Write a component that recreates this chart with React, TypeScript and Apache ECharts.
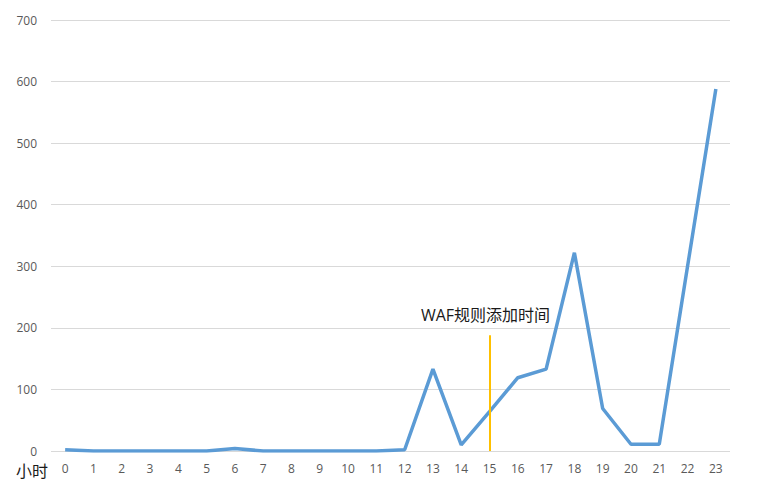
import React, { useEffect, useRef } from "react";
import * as echarts from "echarts";

const hours = [
  "0", "1", "2", "3", "4", "5", "6", "7", "8", "9", "10", "11",
  "12", "13", "14", "15", "16", "17", "18", "19", "20", "21", "22", "23",
];
const requests = [2, 0, 0, 0, 0, 0, 4, 0, 0, 0, 0, 0, 2, 133, 10, 64, 119, 133, 322, 69, 11, 11, 300, 588];
const wafHour = "15";
const wafMarkTop = 188;
const wafLabel = "WAF规则添加时间";

const App: React.FC = () => {
  const chartRef = useRef<HTMLDivElement>(null);

  useEffect(() => {
    if (!chartRef.current) return;
    const chart = echarts.init(chartRef.current, undefined, { renderer: "svg" });

    chart.setOption({
      animation: false,
      textStyle: { fontFamily: "'Open Sans', 'Noto Sans CJK SC', sans-serif" },
      grid: { left: 51, right: 32, top: 20, bottom: 38 },
      xAxis: {
        type: "category",
        data: hours,
        axisLine: { show: false },
        axisTick: { show: false },
        axisLabel: { color: "#595959", fontSize: 12, margin: 11 },
      },
      yAxis: {
        type: "value",
        min: 0,
        max: 700,
        interval: 100,
        axisLine: { show: false },
        axisTick: { show: false },
        axisLabel: { color: "#595959", fontSize: 12, margin: 14 },
        splitLine: { lineStyle: { color: "#d9d9d9", width: 1 } },
      },
      series: [
        {
          type: "line",
          data: requests,
          symbol: "none",
          lineStyle: { color: "#5B9BD5", width: 3.5 },
          markLine: {
            symbol: "none",
            silent: true,
            lineStyle: { color: "#FFC000", width: 2, type: "solid" },
            label: {
              show: true,
              position: "end",
              formatter: wafLabel,
              color: "#1a1a1a",
              fontSize: 16,
              distance: 12,
              offset: [-4, 0],
            },
            data: [[{ coord: [wafHour, 0] }, { coord: [wafHour, wafMarkTop] }]],
          },
        },
      ],
      graphic: [
        {
          type: "text",
          left: 16,
          top: 462,
          style: {
            text: "小时",
            fontSize: 16,
            fill: "#1a1a1a",
            fontFamily: "'Noto Sans CJK SC', sans-serif",
          },
        },
      ],
    });

    return () => {
      chart.dispose();
    };
  }, []);

  return (
    <div
      ref={chartRef}
      style={{ position: "fixed", left: 0, top: 0, width: 762, height: 489, background: "#fff" }}
    />
  );
};

export default App;
